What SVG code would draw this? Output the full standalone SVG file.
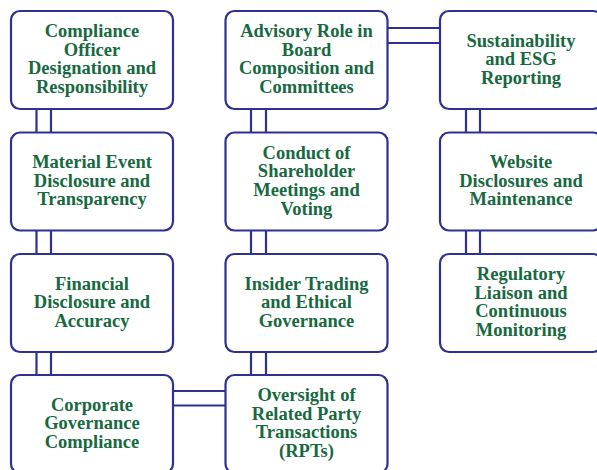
<svg xmlns="http://www.w3.org/2000/svg" width="597" height="470" viewBox="0 0 597 470">
<style>
.box{fill:#ffffff;stroke:#2e3192;stroke-width:2.2}
.c{stroke:#2e3192;stroke-width:2.2;fill:none}
.t{font-family:"Liberation Serif","Times New Roman",serif;font-weight:bold;font-size:18.5px;fill:#17693f;text-anchor:middle}
</style>
<rect width="597" height="470" fill="#ffffff"/>
<g id="connectors">
<path class="c" d="M36.5 109V132.5M51 109V132.5M36.5 230.5V254M51 230.5V254M36.5 352V375M51 352V375"/>
<path class="c" d="M251 109V132.5M266 109V132.5M251 230.5V254M266 230.5V254M251 352V375M266 352V375"/>
<path class="c" d="M466 109V132.5M480 109V132.5M466 230.5V254M480 230.5V254"/>
<path class="c" d="M387.5 28H440M387.5 43H440"/>
<path class="c" d="M173 391H225.5M173 405.5H225.5"/>
</g>
<g id="n1"><rect class="box" x="11" y="11" width="162" height="98" rx="9"/>
<text class="t"><tspan x="92" y="37">Compliance</tspan><tspan x="92" y="55.7">Officer</tspan><tspan x="92" y="74.4">Designation and</tspan><tspan x="92" y="93.1">Responsibility</tspan></text></g>
<g id="n2"><rect class="box" x="11" y="132.5" width="162" height="98" rx="9"/>
<text class="t"><tspan x="92" y="168">Material Event</tspan><tspan x="92" y="186.7">Disclosure and</tspan><tspan x="92" y="205.4">Transparency</tspan></text></g>
<g id="n3"><rect class="box" x="11" y="254" width="162" height="98" rx="9"/>
<text class="t"><tspan x="92" y="289.5">Financial</tspan><tspan x="92" y="308.2">Disclosure and</tspan><tspan x="92" y="326.9">Accuracy</tspan></text></g>
<g id="n4"><rect class="box" x="11" y="375" width="162" height="98" rx="9"/>
<text class="t"><tspan x="92" y="410.5">Corporate</tspan><tspan x="92" y="429.2">Governance</tspan><tspan x="92" y="447.9">Compliance</tspan></text></g>
<g id="n5"><rect class="box" x="225.5" y="11" width="162" height="98" rx="9"/>
<text class="t"><tspan x="306.5" y="37">Advisory Role in</tspan><tspan x="306.5" y="55.7">Board</tspan><tspan x="306.5" y="74.4">Composition and</tspan><tspan x="306.5" y="93.1">Committees</tspan></text></g>
<g id="n6"><rect class="box" x="225.5" y="132.5" width="162" height="98" rx="9"/>
<text class="t"><tspan x="306.5" y="158.5">Conduct of</tspan><tspan x="306.5" y="177.2">Shareholder</tspan><tspan x="306.5" y="195.9">Meetings and</tspan><tspan x="306.5" y="214.6">Voting</tspan></text></g>
<g id="n7"><rect class="box" x="225.5" y="254" width="162" height="98" rx="9"/>
<text class="t"><tspan x="306.5" y="289.5">Insider Trading</tspan><tspan x="306.5" y="308.2">and Ethical</tspan><tspan x="306.5" y="326.9">Governance</tspan></text></g>
<g id="n8"><rect class="box" x="225.5" y="375" width="162" height="98" rx="9"/>
<text class="t"><tspan x="306.5" y="401">Oversight of</tspan><tspan x="306.5" y="419.7">Related Party</tspan><tspan x="306.5" y="438.4">Transactions</tspan><tspan x="306.5" y="457.1">(RPTs)</tspan></text></g>
<g id="n9"><rect class="box" x="440" y="11" width="162" height="98" rx="9"/>
<text class="t"><tspan x="521" y="46.5">Sustainability</tspan><tspan x="521" y="65.2">and ESG</tspan><tspan x="521" y="83.9">Reporting</tspan></text></g>
<g id="n10"><rect class="box" x="440" y="132.5" width="162" height="98" rx="9"/>
<text class="t"><tspan x="521" y="168">Website</tspan><tspan x="521" y="186.7">Disclosures and</tspan><tspan x="521" y="205.4">Maintenance</tspan></text></g>
<g id="n11"><rect class="box" x="440" y="254" width="162" height="98" rx="9"/>
<text class="t"><tspan x="521" y="280">Regulatory</tspan><tspan x="521" y="298.7">Liaison and</tspan><tspan x="521" y="317.4">Continuous</tspan><tspan x="521" y="336.1">Monitoring</tspan></text></g>
</svg>
